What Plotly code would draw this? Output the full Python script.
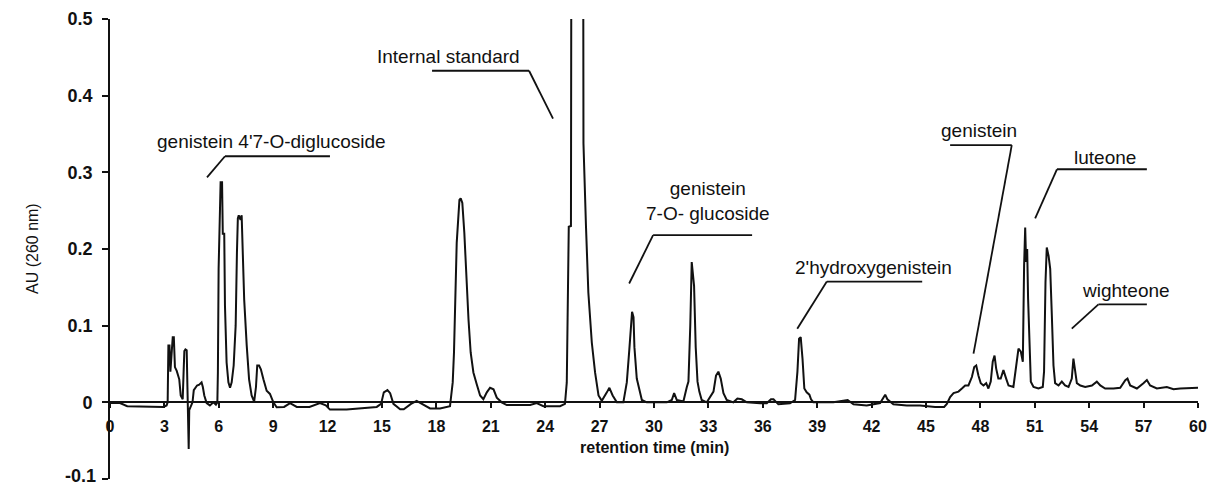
import plotly.graph_objects as go

# ---- data (retention time in min, absorbance AU) ----
time_min = [
    0.0, 0.55, 0.95, 2.0, 2.94, 3.12, 3.18,
    3.22, 3.28, 3.33, 3.40, 3.46, 3.52, 3.58, 3.68, 3.82, 3.90, 4.01, 4.06, 4.10, 4.16, 4.23,
    4.27, 4.29, 4.31, 4.34, 4.37, 4.45, 4.55, 4.62, 4.69, 4.80, 4.92, 5.05, 5.12, 5.20, 5.33,
    5.51, 5.70, 5.84, 5.92, 5.95, 5.99, 6.05, 6.10, 6.18, 6.22, 6.30, 6.34, 6.43, 6.53, 6.62,
    6.71, 6.82, 6.93, 7.00, 7.05, 7.10, 7.20, 7.26, 7.32, 7.40, 7.54, 7.67, 7.81, 7.95, 8.05,
    8.12, 8.22, 8.32, 8.46, 8.64, 8.82, 9.01, 9.19, 9.60, 9.93, 10.3, 11.0, 11.58, 11.9, 12.13,
    13.05, 13.97, 14.71, 14.95, 15.1, 15.3, 15.45, 15.63, 16.0, 16.2, 16.6, 16.91, 17.2, 17.65,
    18.2, 18.75, 18.9, 18.97, 19.12, 19.27, 19.34, 19.43, 19.54, 19.64, 19.77, 19.89, 20.04,
    20.22, 20.41, 20.59, 20.78, 20.96, 21.15, 21.33, 21.6, 21.88, 23.17, 23.53, 23.9, 24.82,
    25.09, 25.19, 25.30, 25.42, 25.46, 26.08, 26.11, 26.25, 26.38, 26.57, 26.75, 26.94, 27.12,
    27.40, 27.54, 27.72, 27.95, 28.31, 28.50, 28.64, 28.74, 28.79, 28.87, 28.92, 29.05, 29.20,
    29.33, 29.60, 30.71, 30.98, 31.11, 31.26, 31.62, 31.81, 31.90, 32.00, 32.08, 32.21, 32.30,
    32.40, 32.50, 32.63, 32.91, 33.28, 33.42, 33.55, 33.68, 33.83, 34.01, 34.38, 34.60, 34.84,
    35.12, 35.85, 36.22, 36.45, 36.59, 36.86, 37.50, 37.78, 37.91, 38.00, 38.09, 38.19, 38.29,
    38.42, 38.57, 38.66, 38.79, 39.89, 40.68, 41.0, 41.73, 42.47, 42.75, 42.87, 43.2, 43.94,
    44.67, 45.5, 46.0, 46.15, 46.33, 46.52, 46.79, 46.98, 47.16, 47.34, 47.53, 47.66, 47.77,
    47.89, 48.02, 48.17, 48.32, 48.44, 48.57, 48.68, 48.78, 48.87, 48.99, 49.12, 49.27, 49.42,
    49.55, 49.82, 50.0, 50.1, 50.23, 50.34, 50.41, 50.47, 50.52, 50.58, 50.63, 50.71, 50.78,
    50.93, 51.2, 51.44, 51.51, 51.59, 51.66, 51.76, 51.85, 51.94, 52.03, 52.12, 52.31, 52.49,
    52.67, 52.86, 53.04, 53.13, 53.23, 53.32, 53.51, 53.78, 54.15, 54.42, 54.61, 54.88, 55.34,
    55.71, 55.99, 56.11, 56.26, 56.63, 56.99, 57.18, 57.36, 57.73, 58.28, 58.65, 59.02, 59.57,
    60.0,
]
absorbance_au = [
    -0.001, -0.001, -0.005, -0.006, -0.006, -0.004, 0.0,
    0.074, 0.074, 0.040, 0.060, 0.085, 0.085, 0.046, 0.041, 0.030, 0.009, 0.004, 0.040, 0.067, 0.069, 0.068,
    0.020, 0.0, -0.061, -0.061, -0.010, -0.006, 0.0, 0.016, 0.019, 0.022, 0.023, 0.026, 0.020, 0.009, -0.001,
    -0.004, 0.0, -0.003, 0.0, 0.039, 0.175, 0.220, 0.287, 0.287, 0.220, 0.220, 0.126, 0.052, 0.026, 0.019,
    0.026, 0.048, 0.100, 0.195, 0.240, 0.244, 0.238, 0.244, 0.200, 0.134, 0.074, 0.030, 0.009, 0.001, 0.020,
    0.048, 0.048, 0.043, 0.030, 0.015, 0.011, 0.0, -0.0065, -0.006, -0.001, -0.006, -0.006, -0.001, -0.004, -0.0095,
    -0.0095, -0.008, -0.006, -0.002, 0.013, 0.016, 0.012, -0.002, -0.009, -0.009, -0.002, 0.002, -0.002, -0.008,
    -0.008, -0.005, 0.026, 0.065, 0.208, 0.264, 0.266, 0.260, 0.221, 0.165, 0.108, 0.065, 0.039,
    0.024, 0.009, 0.004, 0.013, 0.019, 0.017, 0.006, 0.0, -0.0035, -0.0035, -0.001, -0.005, -0.005,
    -0.002, 0.026, 0.229, 0.230, 0.900, 0.900, 0.338, 0.229, 0.143, 0.078, 0.039, 0.009, 0.002,
    0.013, 0.019, 0.009, 0.0, 0.0, 0.026, 0.069, 0.113, 0.118, 0.111, 0.072, 0.031, 0.014,
    0.003, 0.0, 0.0, 0.003, 0.012, 0.003, 0.001, 0.020, 0.027, 0.100, 0.183, 0.152, 0.072,
    0.027, 0.014, 0.003, 0.0, 0.014, 0.035, 0.040, 0.031, 0.012, 0.003, 0.0, 0.005, 0.004,
    0.0, -0.0013, -0.0013, 0.004, 0.004, -0.0026, -0.0013, 0.003, 0.040, 0.083, 0.085, 0.057, 0.018,
    0.013, 0.010, 0.004, 0.0, 0.0, 0.003, -0.0026, -0.004, -0.001, 0.010, 0.004, -0.0026, -0.004,
    -0.004, -0.006, -0.006, -0.002, 0.007, 0.012, 0.014, 0.018, 0.022, 0.022, 0.033, 0.046, 0.048,
    0.035, 0.025, 0.022, 0.025, 0.018, 0.027, 0.053, 0.061, 0.044, 0.031, 0.031, 0.042, 0.031,
    0.022, 0.020, 0.048, 0.070, 0.066, 0.053, 0.178, 0.228, 0.183, 0.200, 0.135, 0.066, 0.027,
    0.020, 0.018, 0.020, 0.040, 0.157, 0.202, 0.191, 0.174, 0.113, 0.048, 0.025, 0.022, 0.027,
    0.022, 0.020, 0.031, 0.057, 0.040, 0.025, 0.022, 0.020, 0.022, 0.027, 0.022, 0.018, 0.018,
    0.019, 0.029, 0.031, 0.022, 0.018, 0.025, 0.029, 0.022, 0.018, 0.020, 0.017, 0.018, 0.019,
    0.019,
]

x_tick_values = list(range(0, 61, 3))
x_tick_labels = [str(v) for v in x_tick_values]
y_tick_values = [-0.1, 0.0, 0.1, 0.2, 0.3, 0.4, 0.5]
y_tick_labels = ["-0.1", "0", "0.1", "0.2", "0.3", "0.4", "0.5"]

# peak labels: text, x, y, anchor
peak_labels = [
    ("genistein 4'7-O-diglucoside", 8.88, 0.340, "center"),
    ("Internal standard", 22.72, 0.451, "right"),
    ("genistein<br>7-O- glucoside", 32.96, 0.262, "center"),
    ("2'hydroxygenistein", 37.66, 0.176, "left"),
    ("genistein", 47.90, 0.354, "center"),
    ("luteone", 54.85, 0.320, "center"),
    ("wighteone", 56.03, 0.146, "center"),
]
# leader lines: (x_start, x_end of underline, y of underline, x_tip, y_tip, joint end)
leader_lines = [
    (6.34, 12.13, 0.321, 5.35, 0.2935, "left"),
    (17.76, 23.11, 0.4325, 24.43, 0.370, "right"),
    (29.95, 35.41, 0.218, 28.63, 0.155, "left"),
    (39.53, 44.79, 0.1575, 37.90, 0.096, "left"),
    (46.33, 49.73, 0.3355, 47.62, 0.0636, "right"),
    (52.22, 57.18, 0.304, 51.02, 0.240, "left"),
    (54.51, 57.18, 0.1277, 53.04, 0.0961, "left"),
]

FONT = "Liberation Sans, Arial, sans-serif"
TICKFONT_Y = dict(family=FONT, size=18, color="#111111", weight="bold")

fig = go.Figure()
fig.add_trace(go.Scatter(
    x=time_min, y=absorbance_au, mode="lines",
    line=dict(color="#111111", width=2), hoverinfo="skip", showlegend=False,
))

shapes = []
for xs, xe, yl, xt, yt, joint in leader_lines:
    shapes.append(dict(type="line", xref="x", yref="y", x0=xs, x1=xe, y0=yl, y1=yl,
                       line=dict(color="#111111", width=1.8)))
    jx = xs if joint == "left" else xe
    shapes.append(dict(type="line", xref="x", yref="y", x0=jx, x1=xt, y0=yl, y1=yt,
                       line=dict(color="#111111", width=1.8)))

annotations = []
for text, ax_, ay_, anc in peak_labels:
    annotations.append(dict(text=text, x=ax_, y=ay_, xref="x", yref="y", showarrow=False,
                            xanchor=anc, yanchor="middle", align="center",
                            font=dict(family=FONT, size=19, color="#111111")))
annotations.append(dict(text="<b>retention time (min)</b>", x=0.5, y=-0.1, xref="paper", yref="y",
                        yshift=32, showarrow=False, xanchor="center", yanchor="middle",
                        font=dict(family=FONT, size=16, color="#111111")))
annotations.append(dict(text="AU (260 nm)", x=0, y=0.5, xref="paper", yref="paper",
                        xshift=-78, showarrow=False, textangle=-90, xanchor="center",
                        yanchor="middle", font=dict(family=FONT, size=16, color="#111111")))
# bottom tick label kept inside the picture (the axis end sits at the page edge)
annotations.append(dict(text=y_tick_labels[0], x=0, y=y_tick_values[0], xref="paper", yref="y",
                        xshift=-12, yshift=3, showarrow=False, xanchor="right", yanchor="middle",
                        font=TICKFONT_Y))

fig.update_layout(
    width=1215, height=486,
    margin=dict(l=110, r=17, t=19, b=7, autoexpand=False),
    paper_bgcolor="white", plot_bgcolor="white",
    shapes=shapes, annotations=annotations,
    xaxis=dict(range=[0, 60], tickvals=x_tick_values, ticktext=x_tick_labels,
               anchor="free", position=1/6, showline=True, linecolor="#111111", linewidth=1.8,
               ticks="outside", ticklen=5, tickwidth=1.5, tickcolor="#111111",
               showgrid=False, zeroline=False, ticklabelstandoff=5, automargin=False,
               tickfont=dict(family=FONT, size=16, color="#111111", weight="bold")),
    yaxis=dict(range=[-0.1, 0.5], tickvals=y_tick_values, ticktext=[""] + y_tick_labels[1:],
               showline=True, linecolor="#111111", linewidth=1.8,
               ticks="outside", ticklen=6, tickwidth=1.5, tickcolor="#111111",
               showgrid=False, zeroline=False, ticklabelstandoff=6, automargin=False,
               tickfont=TICKFONT_Y),
)

fig.write_html("out.html")
